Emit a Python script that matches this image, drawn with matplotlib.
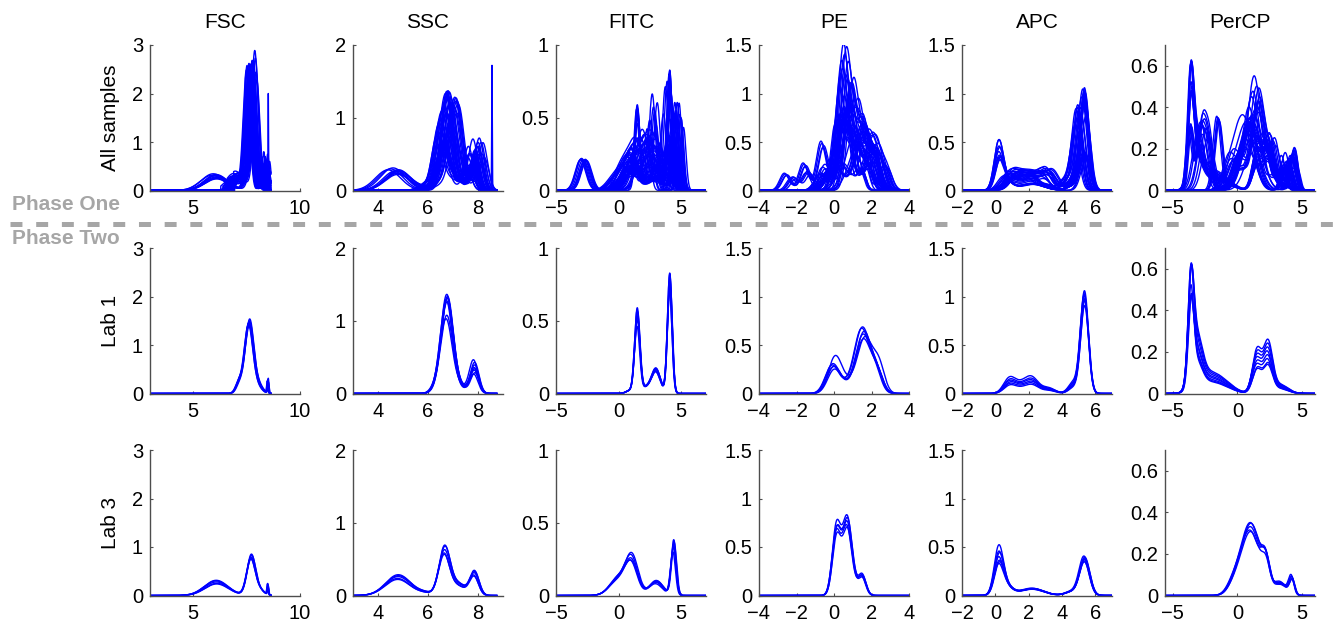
import numpy as np
import matplotlib
matplotlib.use("Agg")
import matplotlib.pyplot as plt
from matplotlib.lines import Line2D

plt.rcParams['font.family'] = ['Liberation Sans', 'DejaVu Sans']
plt.rcParams['lines.scale_dashes'] = False

# ---------------- chart values ----------------
CHANNELS = ["FSC", "SSC", "FITC", "PE", "APC", "PerCP"]
ROW_LABELS = ["All samples", "Lab 1", "Lab 3"]
XLIMS = [(3, 10), (3, 9), (-5, 7), (-4, 4), (-2, 7), (-5.6, 6)]
YMAX = [3, 2, 1, 1.5, 1.5, 0.7]
XTICKS = [[5, 10], [4, 6, 8], [-5, 0, 5], [-4, -2, 0, 2, 4], [-2, 0, 2, 4, 6], [-5, 0, 5]]
YTICKS = [[0, 1, 2, 3], [0, 1, 2], [0, 0.5, 1], [0, 0.5, 1, 1.5], [0, 0.5, 1, 1.5], [0, 0.2, 0.4, 0.6]]
GRID_END = [8.65, 8.75, 7, 4, 7, 6]

# Each density curve = sum of peaks (centre, height, width); each group lists
# per-sample variations (shift, scale of first peak, scale of other peaks[, start]).
FSC_ALL = [
    ([(7.72, 0.8, 0.2), (6.0, 0.3, 0.55), (8.15, 0.1, 0.2), (8.5, 0.2, 0.03)],
     [(-0.1, 0.9, 1.05), (0.08, 1.05, 1.1), (-0.05, 0.95, 1.15), (0.15, 1.2, 0.9)]),
    ([(7.75, 2.5, 0.15), (7.05, 0.25, 0.35), (8.38, 0.5, 0.07)],
     [(-0.25, 0.98, 1.0, 6.30), (-0.22, 1.02, 0.8, 6.40), (-0.19, 1.00, 1.2, 6.50),
      (-0.16, 0.96, 1.4, 6.60), (-0.13, 1.04, 0.6, 6.70), (-0.10, 1.00, 1.0, 6.80),
      (-0.07, 1.02, 1.6, 6.90), (-0.04, 0.98, 0.8, 6.35), (-0.01, 1.03, 1.2, 6.55),
      (0.02, 1.06, 1.0, 6.75), (0.05, 0.92, 0.7, 6.45), (0.08, 1.04, 1.3, 6.65),
      (0.11, 0.94, 1.5, 6.85), (0.14, 1.14, 1.1, 6.95), (0.17, 1.08, 0.9, 6.40),
      (0.20, 0.96, 1.2, 6.60), (0.23, 0.90, 0.8, 6.80), (-0.20, 0.80, 1.0, 6.50),
      (0.00, 0.75, 1.4, 6.70), (0.10, 0.85, 0.6, 6.30), (-0.08, 0.88, 1.1, 6.42),
      (0.06, 0.82, 0.9, 6.58), (-0.14, 0.7, 1.2, 6.62), (0.16, 0.65, 1.0, 6.48)]),
    ([(8.52, 2.0, 0.012), (7.8, 2.4, 0.14), (7.05, 0.25, 0.35)],
     [(0, 1.0, 1.0, 6.6)]),
]
FSC_LAB1 = [
    ([(7.62, 1.45, 0.2), (7.15, 0.2, 0.15), (8.05, 0.15, 0.2), (8.5, 0.25, 0.03)],
     [(-0.03, 0.97, 1.0), (0, 1.0, 1.1), (0.03, 1.05, 0.9), (0.02, 1.02, 1.2), (-0.02, 0.99, 0.8), (0.01, 0.95, 1.0)]),
]
FSC_LAB3 = [
    ([(7.72, 0.78, 0.2), (6.1, 0.28, 0.55), (8.15, 0.1, 0.2), (8.5, 0.2, 0.03)],
     [(0, 1.0, 1.0), (0.02, 1.05, 0.9), (-0.02, 0.97, 1.08), (0.01, 1.08, 0.85), (-0.01, 0.94, 1.12)]),
]

SSC_ALL = [
    ([(6.65, 0.6, 0.22), (4.7, 0.27, 0.5), (7.2, 0.15, 0.3), (7.85, 0.3, 0.18)],
     [(-0.2, 1.0, 1.1), (0, 1.1, 1.0), (-0.1, 0.95, 1.15), (0.05, 1.0, 0.9), (-0.3, 1.2, 1.05)]),
    ([(6.8, 1.3, 0.25), (7.3, 0.1, 0.25), (7.9, 0.5, 0.18), (6.2, 0.08, 0.3)],
     [(-0.35, 0.7, 0.6), (-0.3, 0.75, 0.9), (-0.25, 0.82, 1.0), (-0.2, 0.85, 1.0), (-0.15, 0.9, 0.7),
      (-0.1, 1.0, 1.4), (-0.05, 0.8, 0.9), (0.0, 1.04, 0.8), (0.05, 1.03, 0.6), (0.1, 0.96, 1.2),
      (0.15, 0.78, 1.1), (0.2, 0.9, 0.7), (0.25, 0.86, 1.0), (0.3, 0.92, 1.3), (0.35, 0.8, 0.9),
      (-0.28, 0.6, 1.2), (-0.12, 0.65, 0.8), (0.08, 0.7, 1.0), (0.22, 0.62, 1.3), (-0.02, 0.55, 1.1)]),
    ([(7.15, 1.15, 0.22), (6.6, 0.6, 0.3), (7.95, 0.6, 0.18)],
     [(0, 1.0, 1.0), (0.05, 0.95, 1.1), (-0.05, 1.02, 0.9), (0.1, 0.9, 1.2)]),
    ([(8.56, 1.72, 0.012), (6.9, 1.2, 0.25), (7.9, 0.5, 0.18)],
     [(0, 1.0, 1.0)]),
]
SSC_LAB1 = [
    ([(6.75, 1.3, 0.24), (7.85, 0.35, 0.17), (7.3, 0.08, 0.25), (6.3, 0.05, 0.2)],
     [(0, 1.04, 1.0), (-0.03, 0.78, 1.3), (0.02, 1.0, 1.1), (0.0, 0.82, 0.9), (0.03, 1.02, 0.8),
      (-0.02, 0.98, 0.75), (0.01, 0.96, 0.95), (0.02, 1.0, 1.2)]),
]
SSC_LAB3 = [
    ([(6.65, 0.6, 0.22), (4.8, 0.26, 0.5), (7.2, 0.15, 0.3), (7.85, 0.3, 0.18), (5.9, 0.03, 0.3)],
     [(0, 1.0, 1.0), (0.02, 1.08, 1.05), (-0.02, 0.93, 0.9), (0.01, 1.1, 1.1), (-0.01, 0.9, 0.85)]),
]

FITC_ALL = [
    ([(-2.8, 0.21, 0.42), (1.0, 0.14, 0.8), (4.3, 0.35, 0.3), (2.7, 0.15, 0.5)],
     [(-0.25, 1.0, 1.0), (-0.15, 1.05, 0.8), (-0.05, 1.0, 1.2), (0.05, 0.95, 1.1), (0.15, 1.02, 0.9),
      (0.25, 0.98, 1.3), (-0.2, 1.03, 1.4), (0.1, 1.0, 0.7), (0.2, 0.96, 1.5)]),
    ([(1.5, 0.55, 0.22), (4.1, 0.8, 0.2), (3.0, 0.16, 0.35), (2.2, 0.04, 0.4)],
     [(0.05, 0.9, 0.9), (-0.05, 1.0, 1.0)]),
    ([(2.7, 0.6, 0.25), (4.6, 0.55, 0.22), (1.0, 0.2, 0.6)],
     [(0, 1.1, 1.0), (0.1, 0.95, 1.1), (0.4, 1.0, 0.9), (-0.2, 0.8, 1.0), (0.2, 0.9, 0.8),
      (-0.4, 0.7, 1.2), (0.3, 0.75, 0.95), (-0.1, 0.6, 1.1)]),
    ([(1.0, 0.22, 0.5), (0.0, 0.12, 0.7), (3.0, 0.09, 0.55), (4.4, 0.33, 0.2)],
     [(0.1, 1.1, 1.0), (-0.1, 0.95, 1.05), (0.3, 1.2, 1.2), (0.6, 1.3, 1.5), (0.45, 1.25, 1.8), (0.8, 1.4, 1.3)]),
    ([(3.9, 0.75, 0.25), (2.2, 0.35, 0.5), (0.5, 0.15, 0.5)],
     [(0, 1.0, 1.0), (0.15, 0.9, 1.0), (-0.15, 0.95, 1.1), (0.3, 0.8, 0.9), (-0.3, 0.7, 1.2)]),
    ([(2.6, 0.32, 0.9), (4.4, 0.28, 0.3), (1.3, 0.1, 0.4)],
     [(-0.5, 1.0, 1.0), (-0.4, 1.2, 0.8), (-0.3, 0.9, 1.2), (-0.2, 1.1, 1.0), (-0.1, 1.3, 0.9),
      (0.0, 1.0, 1.3), (0.1, 1.2, 1.1), (0.2, 0.85, 1.0), (0.3, 1.1, 0.7), (0.4, 0.95, 1.2)]),
]
FITC_LAB1 = [
    ([(1.5, 0.55, 0.21), (4.1, 0.78, 0.19), (3.0, 0.16, 0.35), (2.2, 0.04, 0.4), (0.9, 0.02, 0.3)],
     [(0, 1.05, 1.05), (-0.02, 0.82, 0.92), (0.02, 1.0, 1.0), (0.0, 0.9, 1.06), (0.01, 0.95, 0.95), (-0.01, 1.02, 0.9)]),
]
FITC_LAB3 = [
    ([(1.05, 0.22, 0.5), (0.0, 0.11, 0.7), (3.0, 0.09, 0.55), (4.4, 0.33, 0.2)],
     [(0, 1.0, 1.0), (0.05, 1.15, 1.1), (-0.05, 0.95, 0.9), (0.0, 1.1, 1.05), (0.02, 0.9, 1.15)]),
]

PE_ALL = [
    ([(0.5, 1.3, 0.28), (1.2, 0.5, 0.3), (2.0, 0.3, 0.3), (-0.6, 0.15, 0.3)],
     [(0, 1.14, 1.0), (-0.1, 1.0, 1.2), (0.1, 0.9, 0.8), (0.2, 0.85, 1.3), (-0.2, 0.8, 0.9),
      (0.05, 1.05, 1.1), (0.3, 0.7, 1.4), (-0.05, 0.95, 0.7), (0.15, 1.1, 1.5), (-0.15, 0.9, 1.1),
      (0.25, 1.0, 0.9), (0.4, 0.8, 1.2), (0.0, 0.7, 1.6), (0.12, 0.6, 1.8)]),
    ([(0.6, 0.7, 0.4), (-2.6, 0.17, 0.25), (-1.6, 0.27, 0.25), (-0.65, 0.48, 0.25), (2.0, 0.5, 0.3)],
     [(0, 1.0, 1.0), (0.05, 1.2, 0.9), (-0.05, 0.9, 1.05), (0.1, 1.1, 0.95)]),
    ([(0.9, 1.1, 0.3), (-2.2, 0.14, 0.25), (-1.4, 0.2, 0.25), (1.6, 0.7, 0.25), (2.7, 0.27, 0.25)],
     [(0, 1.0, 1.0), (0.05, 1.0, 0.95), (-0.1, 0.9, 0.9), (0.15, 1.05, 0.85)]),
    ([(1.55, 0.62, 0.4), (-0.05, 0.26, 0.35), (0.6, 0.07, 0.4), (2.3, 0.2, 0.3)],
     [(0.05, 1.1, 1.0), (0.3, 1.0, 1.1), (0.5, 0.95, 1.0)]),
    ([(0.72, 0.68, 0.24), (0.12, 0.62, 0.22), (0.42, 0.12, 0.25), (1.5, 0.22, 0.2)],
     [(-0.1, 1.05, 0.95), (0.2, 1.2, 1.1), (0.35, 1.1, 1.2)]),
    ([(0.8, 0.6, 0.5), (1.9, 0.4, 0.35)],
     [(-0.4, 1.0, 1.0), (-0.25, 1.2, 0.8), (-0.1, 0.9, 1.2), (0.05, 1.1, 1.0), (0.2, 1.3, 0.9),
      (0.35, 1.0, 1.3), (0.5, 0.8, 1.1), (-0.3, 1.4, 0.7)]),
]
PE_LAB1 = [
    ([(1.55, 0.6, 0.4), (-0.05, 0.26, 0.35), (0.6, 0.07, 0.4), (2.3, 0.2, 0.3)],
     [(0, 1.0, 1.0), (-0.08, 1.1, 1.05), (0.05, 1.05, 0.9), (0.1, 0.95, 1.4), (-0.04, 1.12, 1.1), (0.02, 0.92, 1.0)]),
]
PE_LAB3 = [
    ([(0.72, 0.68, 0.24), (0.12, 0.62, 0.22), (0.42, 0.12, 0.25), (1.5, 0.2, 0.2), (1.1, 0.06, 0.2)],
     [(0, 1.0, 1.0), (0.02, 1.05, 1.0), (-0.02, 0.95, 0.95), (0.0, 1.08, 1.08), (0.01, 0.92, 0.9)]),
]

APC_ALL = [
    ([(0.2, 0.42, 0.27), (0.6, 0.1, 0.4), (2.2, 0.07, 0.7), (5.35, 0.37, 0.3)],
     [(0, 1.1, 1.0), (0.05, 0.6, 1.0), (0.1, 0.7, 0.9)]),
    ([(5.0, 0.8, 0.28), (1.0, 0.17, 0.45), (2.0, 0.16, 0.5), (3.0, 0.18, 0.4), (4.3, 0.1, 0.3)],
     [(0, 1.0, 1.0), (0.1, 1.06, 1.1), (0.2, 1.2, 0.9), (0.3, 1.1, 1.0), (-0.1, 0.9, 1.15),
      (0.15, 0.95, 0.8), (0.25, 1.3, 1.0), (0.05, 0.75, 1.2), (0.35, 1.25, 0.85), (-0.2, 0.85, 0.9),
      (-0.15, 1.05, 0.7), (0.4, 1.15, 1.05), (-0.05, 1.1, 0.6), (0.45, 0.95, 1.1),
      (-0.25, 0.7, 1.0), (0.12, 0.6, 0.8)]),
    ([(5.35, 1.0, 0.24), (0.85, 0.13, 0.35), (2.2, 0.14, 0.4), (1.5, 0.07, 0.4), (3.2, 0.05, 0.4), (4.7, 0.1, 0.3)],
     [(-0.05, 0.95, 1.1), (0.05, 1.0, 0.9), (-0.4, 0.85, 1.0)]),
]
APC_LAB1 = [
    ([(5.35, 1.0, 0.24), (0.85, 0.13, 0.35), (2.2, 0.14, 0.4), (1.5, 0.07, 0.4), (3.2, 0.05, 0.4), (4.7, 0.1, 0.3)],
     [(0, 1.05, 1.0), (0.02, 0.95, 0.8), (-0.02, 1.0, 1.15), (0.01, 0.9, 0.6), (-0.01, 1.02, 0.9), (0.0, 0.97, 0.7)]),
]
APC_LAB3 = [
    ([(0.2, 0.4, 0.27), (0.6, 0.1, 0.4), (2.2, 0.07, 0.7), (5.35, 0.37, 0.3), (4.6, 0.04, 0.4)],
     [(0, 1.15, 1.0), (0.02, 0.7, 1.05), (-0.02, 0.85, 0.95), (0.03, 0.95, 1.0), (-0.03, 0.65, 1.08),
      (0.0, 1.0, 0.92), (0.01, 0.75, 1.0)]),
]

PERCP_ALL = [
    ([(-3.6, 0.42, 0.22), (-3.2, 0.18, 0.45), (-2.2, 0.06, 0.8), (-1.0, 0.03, 0.8), (1.5, 0.15, 0.35), (2.35, 0.17, 0.35), (3.3, 0.03, 0.6)],
     [(-0.05, 1.05, 1.2), (0.05, 0.9, 0.9)]),
    ([(-3.7, 0.3, 0.22), (-2.85, 0.28, 0.3), (-2.3, 0.22, 0.3), (0.8, 0.3, 0.6), (4.3, 0.17, 0.25), (3.6, 0.1, 0.3)],
     [(0, 1.0, 1.0), (0.08, 1.05, 1.1), (-0.08, 0.95, 0.95), (0.15, 1.0, 1.15), (0.04, 1.02, 0.9)]),
    ([(-1.5, 0.35, 0.3), (1.6, 0.42, 0.45), (4.35, 0.18, 0.25), (2.6, 0.15, 0.4), (0.2, 0.1, 0.5)],
     [(0, 1.0, 1.0), (0.1, 0.95, 1.05), (-0.1, 1.02, 0.95), (0.05, 0.98, 1.15)]),
    ([(1.3, 0.5, 0.5), (-0.2, 0.15, 0.5), (2.6, 0.2, 0.35), (3.8, 0.14, 0.3)],
     [(0, 1.1, 1.0), (0.2, 1.0, 1.1), (-0.2, 0.9, 0.9), (0.4, 0.85, 1.0), (-0.4, 0.8, 1.2), (0.1, 0.7, 0.8),
      (-0.1, 0.95, 1.3), (0.3, 0.75, 1.2), (-0.3, 0.65, 1.0)]),
    ([(1.0, 0.33, 0.75), (-0.3, 0.04, 0.5), (2.2, 0.12, 0.3), (3.3, 0.06, 0.5), (4.2, 0.08, 0.2)],
     [(0.2, 1.1, 1.0), (-0.3, 1.0, 1.0), (0.5, 1.2, 1.1), (-0.6, 1.1, 1.2)]),
    ([(-2.6, 0.3, 0.45), (1.0, 0.25, 0.7), (4.0, 0.12, 0.3)],
     [(-0.4, 1.0, 1.0), (-0.25, 1.1, 0.8), (-0.1, 0.9, 1.2), (0.05, 1.15, 1.0), (0.2, 1.0, 1.3), (0.35, 0.85, 0.9)]),
]
PERCP_LAB1 = [
    ([(-3.6, 0.42, 0.22), (-3.2, 0.18, 0.45), (-2.2, 0.06, 0.8), (-1.0, 0.03, 0.8), (1.5, 0.15, 0.35), (2.35, 0.17, 0.35), (3.3, 0.03, 0.6)],
     [(0, 1.15, 1.0), (0.02, 1.05, 1.3), (-0.02, 0.95, 0.9), (0.03, 0.85, 0.8), (-0.03, 0.75, 1.1),
      (0.0, 1.1, 1.2), (0.01, 0.9, 0.75), (0.02, 1.0, 1.4)]),
]
PERCP_LAB3 = [
    ([(1.0, 0.33, 0.75), (-0.3, 0.04, 0.5), (2.2, 0.12, 0.3), (3.3, 0.06, 0.5), (4.2, 0.08, 0.2)],
     [(0, 1.0, 1.0), (0.05, 1.05, 0.9), (-0.05, 0.95, 1.1), (0.0, 1.06, 1.0), (0.02, 0.93, 0.85)]),
]

# "All samples" also contains the Lab 1 and Lab 3 samples
PANELS = [
    [FSC_ALL + FSC_LAB1 + FSC_LAB3, SSC_ALL + SSC_LAB1 + SSC_LAB3, FITC_ALL + FITC_LAB1 + FITC_LAB3,
     PE_ALL + PE_LAB1 + PE_LAB3, APC_ALL + APC_LAB1 + APC_LAB3, PERCP_ALL + PERCP_LAB1 + PERCP_LAB3],
    [FSC_LAB1, SSC_LAB1, FITC_LAB1, PE_LAB1, APC_LAB1, PERCP_LAB1],
    [FSC_LAB3, SSC_LAB3, FITC_LAB3, PE_LAB3, APC_LAB3, PERCP_LAB3],
]


def density(x, peaks, var):
    dx, a, b = var[0], var[1], var[2]
    y = np.zeros_like(x)
    for i, (m, h, s) in enumerate(peaks):
        k = a if i == 0 else b
        y += k * h * np.exp(-0.5 * ((x - m - dx) / s) ** 2)
    if len(var) > 3:
        y[x < var[3]] = 0.0
    return y


# ---------------- layout ----------------
W, H = 1340, 629
fig = plt.figure(figsize=(W / 100, H / 100), dpi=100)
COL_LEFT = [150, 353, 556, 759, 962, 1165]
ROW_TOP = [45, 248, 450]
AX_W, AX_H = 150, 145.5
SPINE = '#4d4d4d'
FS = 14.5

for r in range(3):
    for c in range(6):
        ax = fig.add_axes([COL_LEFT[c] / W, 1 - (ROW_TOP[r] + AX_H) / H, AX_W / W, AX_H / H])
        x = np.linspace(XLIMS[c][0], GRID_END[c], 2000)
        for peaks, variations in PANELS[r][c]:
            for var in variations:
                ax.plot(x, density(x, peaks, var), color='#0000ff', lw=1.0, solid_joinstyle='round')
        ax.set_xlim(*XLIMS[c])
        ax.set_ylim(0, YMAX[c])
        ax.set_xticks(XTICKS[c])
        ax.set_yticks(YTICKS[c])
        ax.set_yticklabels(['%g' % v for v in YTICKS[c]])
        ax.set_xticklabels(['%g' % v if v >= 0 else '\u2212%g' % -v for v in XTICKS[c]])
        for side in ('top', 'right'):
            ax.spines[side].set_visible(False)
        for side in ('left', 'bottom'):
            ax.spines[side].set_color(SPINE)
            ax.spines[side].set_linewidth(1.0)
        ax.tick_params(direction='in', length=2.5, width=0.8, color=SPINE,
                       labelsize=FS, labelcolor='black')
        ax.tick_params(axis='x', pad=6)
        ax.tick_params(axis='y', pad=5)
        ax.set_facecolor('none')
        if r == 0:
            ax.set_title(CHANNELS[c], fontsize=15, pad=12)
    fig.text(110 / W, 1 - (ROW_TOP[r] + AX_H / 2) / H, ROW_LABELS[r], rotation=90,
             ha='center', va='center', fontsize=15)

GREY = '#a6a6a6'
fig.text(12 / W, 1 - 204 / H, 'Phase One', ha='left', va='center', fontsize=15,
         weight='bold', color=GREY)
fig.text(12 / W, 1 - 239 / H, 'Phase Two', ha='left', va='center', fontsize=15,
         weight='bold', color=GREY)
fig.add_artist(Line2D([10 / W, 1.0], [1 - 224 / H] * 2, transform=fig.transFigure,
                      color=GREY, lw=3.6, dashes=(8.6, 9.9), solid_capstyle='butt',
                      dash_capstyle='butt'))

fig.savefig('out.png', dpi=100, facecolor='white')
